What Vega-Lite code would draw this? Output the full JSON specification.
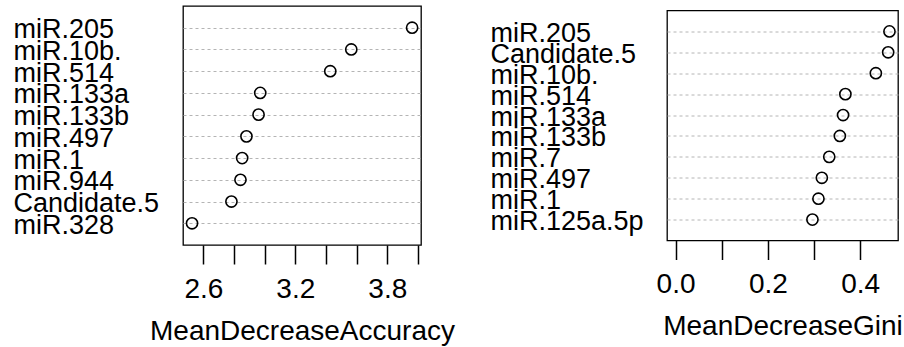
{
  "$schema": "https://vega.github.io/schema/vega-lite/v6.json",
  "padding": {"left": 12, "top": 5, "right": 0, "bottom": 0},
  "background": "white",
  "config": {
    "view": {"stroke": "black", "strokeWidth": 1.3},
    "font": "Liberation Sans",
    "axis": {"labelFont": "Liberation Sans", "titleFont": "Liberation Sans", "labelColor": "black", "titleColor": "black", "titleFontWeight": "normal"}
  },
  "datasets": {
    "acc": [
      {"var": "miR.205", "value": 3.962},
      {"var": "miR.10b.", "value": 3.565},
      {"var": "miR.514", "value": 3.428},
      {"var": "miR.133a", "value": 2.971},
      {"var": "miR.133b", "value": 2.96},
      {"var": "miR.497", "value": 2.881},
      {"var": "miR.1", "value": 2.853},
      {"var": "miR.944", "value": 2.842},
      {"var": "Candidate.5", "value": 2.783},
      {"var": "miR.328", "value": 2.526}
    ],
    "gini": [
      {"var": "miR.205", "value": 0.4635},
      {"var": "Candidate.5", "value": 0.4607},
      {"var": "miR.10b.", "value": 0.434},
      {"var": "miR.514", "value": 0.368},
      {"var": "miR.133a", "value": 0.363},
      {"var": "miR.133b", "value": 0.356},
      {"var": "miR.7", "value": 0.333},
      {"var": "miR.497", "value": 0.317},
      {"var": "miR.1", "value": 0.3096},
      {"var": "miR.125a.5p", "value": 0.2966}
    ]
  },
  "hconcat": [
    {
      "width": 238,
      "height": 239,
      "data": {"name": "acc"},
      "mark": {"type": "point", "shape": "circle", "filled": false, "color": "black", "strokeWidth": 1.6, "size": 125, "opacity": 1},
      "encoding": {
        "x": {
          "field": "value", "type": "quantitative",
          "scale": {"domain": [2.467, 4.02], "nice": false, "zero": false},
          "axis": {
            "values": [2.6, 2.8, 3.0, 3.2, 3.4, 3.6, 3.8, 4.0],
            "format": ".1f",
            "labelExpr": "indexof(['2.6','3.2','3.8'], datum.label) >= 0 ? datum.label : ''",
            "domain": false, "grid": false,
            "tickSize": 19, "tickColor": "black", "tickWidth": 1.5,
            "labelFontSize": 28, "labelPadding": 11, "labelOverlap": false, "labelFlush": false,
            "title": "MeanDecreaseAccuracy", "titleFontSize": 28, "titlePadding": 14
          }
        },
        "y": {
          "field": "var", "type": "ordinal",
          "sort": ["miR.205", "miR.10b.", "miR.514", "miR.133a", "miR.133b", "miR.497", "miR.1", "miR.944", "Candidate.5", "miR.328"],
          "scale": {"padding": 1},
          "axis": {
            "title": null, "domain": false, "ticks": false, "tickSize": 0,
            "grid": true, "gridDash": [3, 3], "gridColor": "#b4b4b4", "gridWidth": 1,
            "labelAlign": "left", "labelBaseline": "middle", "labelPadding": 170,
            "labelFontSize": 27, "labelOffset": 2, "labelOverlap": false
          }
        }
      }
    },
    {
      "width": 231,
      "height": 230,
      "data": {"name": "gini"},
      "mark": {"type": "point", "shape": "circle", "filled": false, "color": "black", "strokeWidth": 1.6, "size": 125, "opacity": 1},
      "encoding": {
        "x": {
          "field": "value", "type": "quantitative",
          "scale": {"domain": [-0.0185, 0.482], "nice": false, "zero": false},
          "axis": {
            "values": [0, 0.1, 0.2, 0.3, 0.4],
            "format": ".1f",
            "labelExpr": "indexof(['0.0','0.2','0.4'], datum.label) >= 0 ? datum.label : ''",
            "domain": false, "grid": false,
            "tickSize": 19, "tickColor": "black", "tickWidth": 1.5,
            "labelFontSize": 28, "labelPadding": 11, "labelOverlap": false, "labelFlush": false,
            "title": "MeanDecreaseGini", "titleFontSize": 28, "titlePadding": 14
          }
        },
        "y": {
          "field": "var", "type": "ordinal",
          "sort": ["miR.205", "Candidate.5", "miR.10b.", "miR.514", "miR.133a", "miR.133b", "miR.7", "miR.497", "miR.1", "miR.125a.5p"],
          "scale": {"padding": 1},
          "axis": {
            "title": null, "domain": false, "ticks": false, "tickSize": 0,
            "grid": true, "gridDash": [3, 3], "gridColor": "#b4b4b4", "gridWidth": 1,
            "labelAlign": "left", "labelBaseline": "middle", "labelPadding": 177,
            "labelFontSize": 27, "labelOffset": 2, "labelOverlap": false
          }
        }
      }
    }
  ],
  "spacing": 246,
  "bounds": "flush",
  "center": true
}
